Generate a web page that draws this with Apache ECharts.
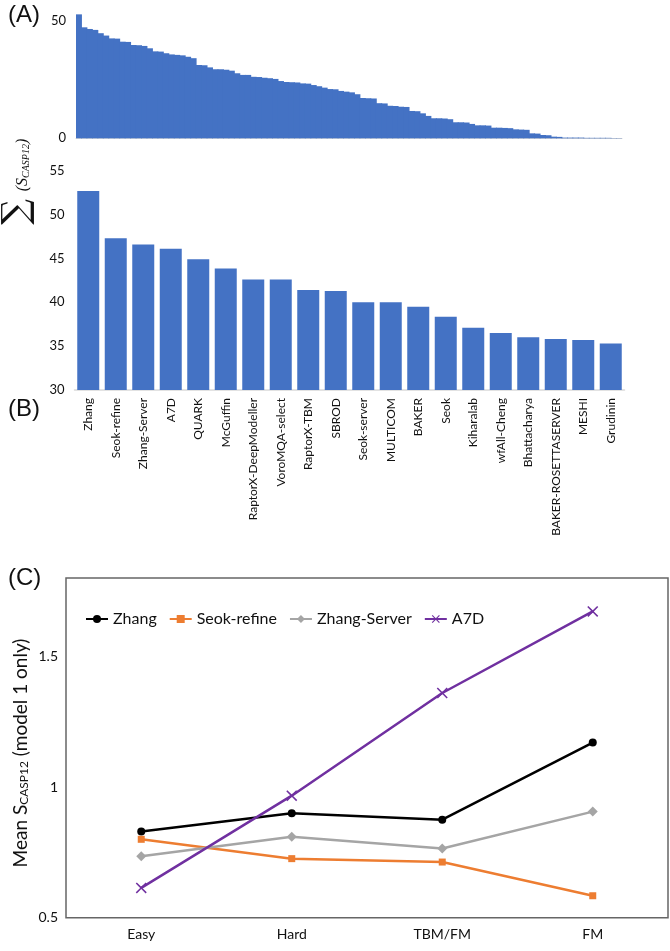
<!DOCTYPE html>
<html>
<head>
<meta charset="utf-8">
<script src="https://cdn.jsdelivr.net/npm/echarts@6/dist/echarts.min.js"></script>
<style>
  html, body { margin: 0; padding: 0; background: #fff; }
  #chart { width: 670px; height: 951px; }
</style>
</head>
<body>
<div id="chart"></div>
<script>
// (A) summed score of every group, ranked
var rankedScores = [
  52.6, 47.1, 46.4, 46.0, 44.6, 43.6, 42.4, 42.3, 41.0, 40.9,
  39.6, 39.5, 39.2, 38.2, 36.9, 36.8, 36.1, 35.6, 35.4, 35.2,
  34.6, 34.0, 31.1, 31.0, 30.1, 29.3, 29.3, 29.1, 28.7, 27.6,
  26.9, 26.9, 26.1, 26.0, 25.7, 25.5, 25.2, 24.3, 23.9, 23.8,
  23.7, 23.3, 23.2, 22.6, 22.1, 21.5, 20.9, 20.8, 20.1, 19.8,
  19.5, 18.7, 17.1, 17.0, 16.9, 14.9, 14.8, 13.8, 13.7, 13.4,
  13.3, 11.6, 11.5, 10.6, 9.5, 8.5, 8.5, 8.4, 8.1, 6.8,
  6.8, 6.7, 6.1, 5.5, 5.5, 5.4, 4.5, 4.5, 4.4, 4.3,
  3.8, 3.7, 3.6, 2.1, 2.0, 1.4, 1.3, 0.7, 0.6, 0.3,
  0.3, 0.3, 0.3, 0.2, 0.2, 0.2, 0.2, 0.2, 0.1, 0.1
];
var ranks = rankedScores.map(function (v, i) { return String(i + 1); });

// (B) top 20 groups
var groups = ['Zhang', 'Seok-refine', 'Zhang-Server', 'A7D', 'QUARK', 'McGuffin',
  'RaptorX-DeepModeller', 'VoroMQA-select', 'RaptorX-TBM', 'SBROD', 'Seok-server',
  'MULTICOM', 'BAKER', 'Seok', 'Kiharalab', 'wfAll-Cheng', 'Bhattacharya',
  'BAKER-ROSETTASERVER', 'MESHI', 'Grudinin'];
var groupScores = [52.7, 47.3, 46.6, 46.1, 44.9, 43.85, 42.6, 42.6, 41.4, 41.3,
  40.0, 40.0, 39.5, 38.35, 37.1, 36.5, 36.0, 35.8, 35.7, 35.3];

// (C) mean score per difficulty class
var difficulty = ['Easy', 'Hard', 'TBM/FM', 'FM'];
var zhang       = [0.83, 0.90, 0.875, 1.17];
var seokRefine  = [0.80, 0.726, 0.713, 0.584];
var zhangServer = [0.735, 0.81, 0.765, 0.906];
var a7d         = [0.614, 0.967, 1.36, 1.672];

var blue = '#4472C4';
var font = 'Lato';
var crossPath = 'path://M0,1L1,0L5,4L9,0L10,1L6,5L10,9L9,10L5,6L1,10L0,9L4,5Z';

var myChart = echarts.init(document.getElementById('chart'));

var option = {
  backgroundColor: '#fff',
  textStyle: { fontFamily: font },
  animation: false,
  grid: [
    { left: 76, right: 48, top: 8.7, height: 129.6 },
    { left: 74.5, right: 45.5, top: 170.7, height: 219.3 },
    { left: 66, right: 2, top: 578, height: 339.7, show: true, borderColor: '#666', borderWidth: 1.5 }
  ],
  legend: {
    data: ['Zhang', 'Seok-refine', 'Zhang-Server', 'A7D'],
    left: 80, top: 606,
    itemWidth: 22, itemHeight: 10, itemGap: 12,
    textStyle: { fontSize: 16, color: '#111', fontFamily: font }
  },
  xAxis: [
    { gridIndex: 0, type: 'category', data: ranks,
      axisLine: { show: true, lineStyle: { color: '#d9d9d9' } },
      axisTick: { show: false }, axisLabel: { show: false } },
    { gridIndex: 1, type: 'category', data: groups,
      axisLine: { show: true, lineStyle: { color: '#d9d9d9', width: 1.5 } },
      axisTick: { show: false },
      axisLabel: { rotate: 90, interval: 0, fontSize: 12, color: '#111', margin: 8 } },
    { gridIndex: 2, type: 'category', data: difficulty,
      axisLine: { show: false }, axisTick: { show: false },
      axisLabel: { fontSize: 14, color: '#111', margin: 10 } }
  ],
  yAxis: [
    { gridIndex: 0, type: 'value', min: 0, max: 55, interval: 50,
      splitLine: { show: false }, axisLine: { show: false }, axisTick: { show: false },
      axisLabel: { fontSize: 13, color: '#111', margin: 10,
        formatter: function (v) { return (v === 0 || v === 50) ? v : ''; } } },
    { gridIndex: 1, type: 'value', min: 30, max: 55, interval: 5,
      splitLine: { show: false }, axisLine: { show: false }, axisTick: { show: false },
      axisLabel: { fontSize: 13, color: '#111', margin: 10 } },
    { gridIndex: 2, type: 'value', min: 0.5, max: 1.8, interval: 0.5,
      splitLine: { show: false }, axisLine: { show: false }, axisTick: { show: false },
      axisLabel: { fontSize: 14, color: '#111', margin: 8, showMaxLabel: false } }
  ],
  series: [
    // bars slightly wider than their band so the ranked profile reads as one solid area
    { type: 'bar', xAxisIndex: 0, yAxisIndex: 0, data: rankedScores,
      barWidth: 6.4, itemStyle: { color: blue } },
    { type: 'bar', xAxisIndex: 1, yAxisIndex: 1, data: groupScores,
      barCategoryGap: '20%', itemStyle: { color: blue } },
    { name: 'Zhang', type: 'line', xAxisIndex: 2, yAxisIndex: 2, data: zhang,
      symbol: 'circle', symbolSize: 8,
      lineStyle: { width: 2.5, color: '#000' }, itemStyle: { color: '#000' } },
    { name: 'Seok-refine', type: 'line', xAxisIndex: 2, yAxisIndex: 2, data: seokRefine,
      symbol: 'rect', symbolSize: 7,
      lineStyle: { width: 2.5, color: '#ED7D31' }, itemStyle: { color: '#ED7D31' } },
    { name: 'Zhang-Server', type: 'line', xAxisIndex: 2, yAxisIndex: 2, data: zhangServer,
      symbol: 'diamond', symbolSize: 10,
      lineStyle: { width: 2.5, color: '#A5A5A5' }, itemStyle: { color: '#A5A5A5' } },
    { name: 'A7D', type: 'line', xAxisIndex: 2, yAxisIndex: 2, data: a7d,
      symbol: crossPath, symbolSize: 11,
      lineStyle: { width: 2.5, color: '#7030A0' }, itemStyle: { color: '#7030A0' } }
  ],
  graphic: [
    { type: 'text', left: 8, top: 3,
      style: { text: '(A)', fontSize: 24, fontFamily: 'Liberation Sans', fill: '#111' } },
    { type: 'text', left: 8, top: 397,
      style: { text: '(B)', fontSize: 24, fontFamily: 'Liberation Sans', fill: '#111' } },
    { type: 'text', left: 8, top: 566,
      style: { text: '(C)', fontSize: 24, fontFamily: 'Liberation Sans', fill: '#111' } },
    { type: 'text', x: 18, y: 212, rotation: Math.PI / 2,
      style: { text: '\u2211', fontSize: 36, fontFamily: 'DejaVu Serif', fill: '#111',
        align: 'center', verticalAlign: 'middle' } },
    { type: 'text', x: 23, y: 165, rotation: Math.PI / 2,
      style: { text: '{p|(S}{s|CASP12}{p|)}', align: 'center', verticalAlign: 'middle', fill: '#111',
        rich: {
          p: { fontSize: 16, fontStyle: 'italic', fontFamily: 'Liberation Serif', fill: '#111' },
          s: { fontSize: 10, fontStyle: 'italic', fontFamily: 'Liberation Serif', fill: '#111', verticalAlign: 'bottom', padding: [6, 0, 0, 0] }
        } } },
    { type: 'text', x: 21, y: 753, rotation: Math.PI / 2,
      style: { text: '{m|Mean S}{s|CASP12}{m| (model 1 only)}', align: 'center', verticalAlign: 'middle', fill: '#111',
        rich: {
          m: { fontSize: 19, fontFamily: font, fill: '#111' },
          s: { fontSize: 12, fontFamily: font, fill: '#111', verticalAlign: 'bottom', padding: [7, 0, 0, 0] }
        } } }
  ]
};

myChart.setOption(option);
</script>
</body>
</html>
